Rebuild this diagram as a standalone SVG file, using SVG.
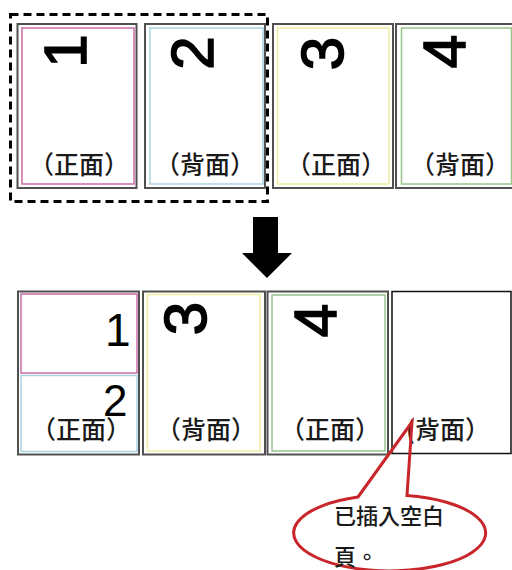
<svg xmlns="http://www.w3.org/2000/svg" width="512" height="570" viewBox="0 0 512 570">
<style>
.outer{fill:#fff;stroke:#505050;stroke-width:2}
.pink{fill:none;stroke:#c86ea6;stroke-width:1.5}
.blue{fill:none;stroke:#a9d3e3;stroke-width:1.5}
.yellow{fill:none;stroke:#eeeea0;stroke-width:1.5}
.green{fill:none;stroke:#98c48a;stroke-width:1.5}
.num{font-family:"Liberation Sans",Arial,sans-serif;fill:#000}
.rot{font-size:60px;text-anchor:middle;stroke:#000;stroke-width:1.6}
.lbl{font-family:"Noto Sans CJK TC","Noto Sans CJK SC",sans-serif;font-size:25px;font-weight:500;fill:#1a1a1a;text-anchor:middle}
.call{font-family:"Noto Sans CJK TC","Noto Sans CJK SC",sans-serif;font-size:22px;font-weight:500;fill:#1a1a1a}
</style>
<rect width="512" height="570" fill="#fff"/>
<g id="selection">
<rect x="10.5" y="14.5" width="257" height="187" fill="none" stroke="#000" stroke-width="3" stroke-dasharray="8,5"/>
</g>
<g id="page1">
<rect class="outer" x="17.5" y="24" width="119" height="164"/>
<rect class="pink" x="22" y="28" width="112" height="156"/>
<text class="num rot" transform="translate(64.5,51) rotate(-90)" x="0" y="21.5">1</text>
<text class="lbl" x="79" y="174">（正面）</text>
</g>
<g id="page2">
<rect class="outer" x="145" y="24" width="120" height="164"/>
<rect class="blue" x="150" y="28" width="113" height="156"/>
<text class="num rot" transform="translate(191.5,53) rotate(-90)" x="0" y="21.5">2</text>
<text class="lbl" x="205" y="174">（背面）</text>
</g>
<g id="page3">
<rect class="outer" x="273" y="24" width="120" height="164"/>
<rect class="yellow" x="277.5" y="28" width="111.5" height="156"/>
<text class="num rot" transform="translate(321,53.5) rotate(-90)" x="0" y="21.5">3</text>
<text class="lbl" x="336" y="174">（正面）</text>
</g>
<g id="page4">
<rect class="outer" x="396" y="24" width="122" height="164"/>
<rect class="green" x="401.5" y="28" width="110" height="156"/>
<text class="num rot" transform="translate(443,51.5) rotate(-90)" x="0" y="21.5">4</text>
<text class="lbl" x="460" y="174">（背面）</text>
</g>
<g id="arrow">
<polygon points="253,217 278,217 278,253 292,253 267,278 242,253 253,253" fill="#000"/>
</g>
<g id="sheetA">
<rect class="outer" x="18" y="291.5" width="121" height="163"/>
<rect class="pink" x="21" y="294" width="116" height="79"/>
<rect class="blue" x="21" y="375.5" width="116" height="76"/>
<text class="num" x="105" y="346" font-size="46">1</text>
<text class="num" x="103" y="416" font-size="44">2</text>
<text class="lbl" x="81" y="439">（正面）</text>
</g>
<g id="sheetB">
<rect class="outer" x="143" y="291.5" width="122" height="163"/>
<rect class="yellow" x="147.5" y="294.5" width="112.5" height="156.5"/>
<text class="num rot" transform="translate(184,318.5) rotate(-90)" x="0" y="21.5">3</text>
<text class="lbl" x="206" y="439">（背面）</text>
</g>
<g id="sheetC">
<rect class="outer" x="267.5" y="291.5" width="120.5" height="163"/>
<rect class="green" x="272" y="295" width="113" height="156"/>
<text class="num rot" transform="translate(314,320.5) rotate(-90)" x="0" y="21.5">4</text>
<text class="lbl" x="330" y="439">（正面）</text>
</g>
<g id="sheetD">
<rect x="392" y="291.5" width="119" height="162" fill="#fff" stroke="#111" stroke-width="1.5"/>
<text class="lbl" x="448" y="439">(背面）</text>
</g>
<g id="connectors">
<path d="M358,497 L412,422 L407,495.5 A96,38 0 1 1 358,497 Z" fill="none" stroke="#c8262b" stroke-width="3" stroke-linejoin="miter"/>
</g>
<g id="callout">
<text class="call" x="334" y="524">已插入空白</text>
<text class="call" x="334" y="565">頁。</text>
</g>
</svg>
